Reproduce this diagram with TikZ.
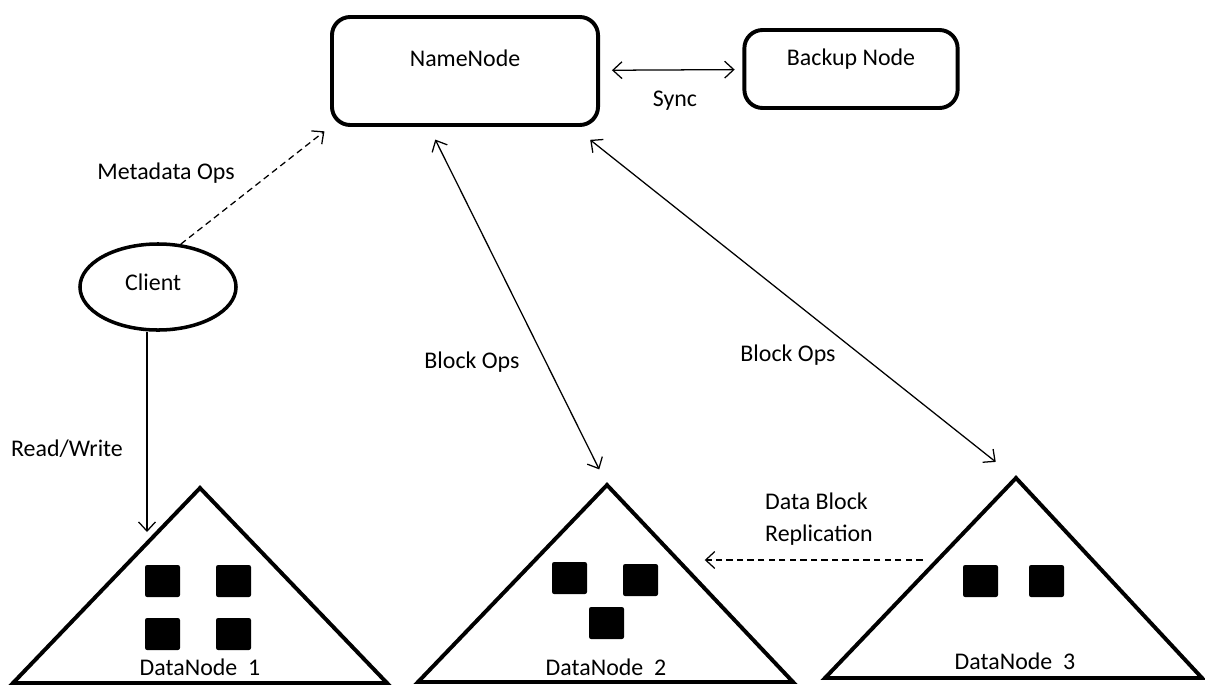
\documentclass[tikz,border=0pt]{standalone}
\usepackage{fontspec}
\setmainfont{Carlito}
\usetikzlibrary{arrows.meta,calc,shapes.geometric}

\begin{document}
\begin{tikzpicture}[x=0.025cm, y=-0.025cm,
  every node/.style={font=\fontsize{17}{23}\selectfont},
  box/.style={draw, rectangle, rounded corners=13pt, line width=2.8pt, inner sep=0pt},
  tri/.style={draw, line width=2.8pt},
  blk/.style={fill=black, rounded corners=1.5pt},
  link/.style={line width=0.9pt, -{Straight Barb[length=6.5pt,width=12pt]}},
  both/.style={line width=0.9pt, {Straight Barb[length=6.5pt,width=12pt]}-{Straight Barb[length=6.5pt,width=12pt]}},
  dashline/.style={line width=0.9pt, dash pattern=on 4.5pt off 3pt}]
  \useasboundingbox (0,0) rectangle (1205,685);

  % top row
  \node[box, minimum width=6.65cm, minimum height=2.7cm, label={[yshift=0.33cm]center:NameNode}] (nn) at (465,71) {};
  \node[box, minimum width=5.33cm, minimum height=1.95cm, label={[yshift=0.24cm]center:Backup Node}] (bn) at (851,69) {};
  \node[draw, ellipse, line width=2.5pt, minimum width=3.9cm, minimum height=2.15cm, inner sep=0pt, label={[xshift=-0.12cm, yshift=0.12cm]center:Client}] (cl) at (158,287) {};

  % data nodes
  \coordinate (t1) at (200,488);
  \coordinate (t2) at (607,485);
  \coordinate (t3) at (1016,478);
  \draw[tri] (13,683) -- (t1) -- (387,683) -- cycle;
  \draw[tri] (418,682) -- (t2) -- (793,682) -- cycle;
  \draw[tri] (825,678) -- (t3) -- (1202,678) -- cycle;
  \foreach \x/\y in {145/565, 216/565, 145/618, 216/618, 552/562, 623/564, 589/607, 963/565, 1029/565}
    \fill[blk] (\x,\y) rectangle ++(35,32);
  \node (d1) at (200,667) {DataNode\ \ 1};
  \node (d2) at (606,667) {DataNode\ \ 2};
  \node (d3) at (1015,661) {DataNode\ \ 3};

  % connectors
  \coordinate (rw) at (147,532);
  \coordinate (r3) at (938,560);
  \coordinate (r2) at (678,560);
  \draw[both, shorten <=8.5pt, shorten >=5.5pt] (nn) -- (bn);
  \draw[link, dashline, shorten >=5pt] (cl.62) -- (nn.south west);
  \draw[link] (cl.south -| rw) -- (rw);
  \draw[both, shorten <=10pt, shorten >=12.4pt] ($(nn.south)+(-36,0)$) -- (t2);
  \draw[both, shorten <=14.7pt, shorten >=18.4pt] ($(nn.south)+(109,0)$) -- (t3);
  \draw[link, dashline, shorten <=11pt, shorten >=19pt] (r3) -- (r2);

  % labels
  \node (sy) at (675,101) {Sync};
  \node (md) at (166,173) {Metadata Ops};
  \node (rd) at (67,449) {Read/Write};
  \node (b2) at (472,362) {Block Ops};
  \node (b3) at (788,355) {Block Ops};
  \node[align=left] (rp) at (819,519) {Data Block\\Replication};
\end{tikzpicture}
\end{document}
